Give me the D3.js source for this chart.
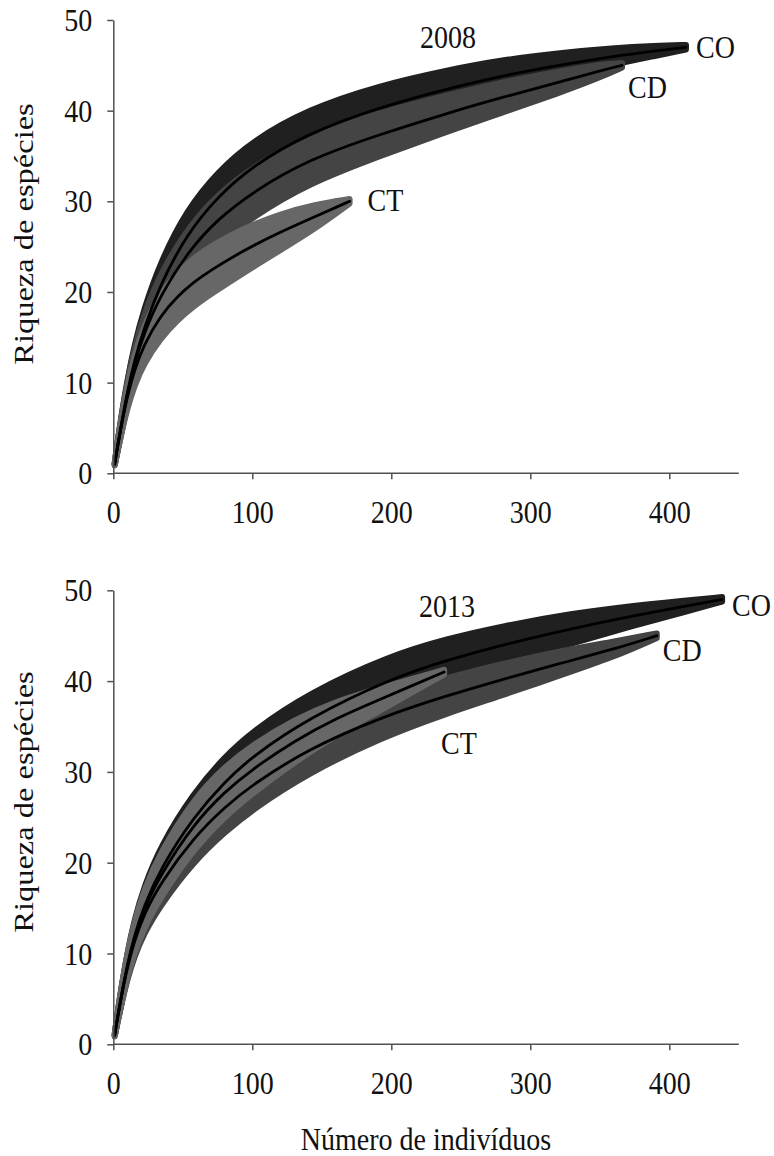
<!DOCTYPE html>
<html>
<head>
<meta charset="utf-8">
<script src="https://cdn.jsdelivr.net/npm/d3@7"></script>
<style>
  html, body { margin: 0; padding: 0; background: #fff; }
  svg { display: block; }
  text { font-family: "Liberation Serif", "Times New Roman", serif; fill: #111; }
</style>
</head>
<body>
<svg id="chart" width="774" height="1156"></svg>
<script>
// Axis ticks and labels
const xTicks = [0, 100, 200, 300, 400];
const yTicks = [0, 10, 20, 30, 40, 50];
const xTitle = "Número de indivíduos";
const yTitle = "Riqueza de espécies";
const years = ["2008", "2013"];

// 2008 — rarefied richness (S) by number of individuals (N), with CI half-widths
const co2008N  = [1, 3, 6, 10, 15, 22, 34, 53, 75, 100, 140, 192, 240, 278, 320, 360, 390, 412];
const co2008S  = [1, 2.9, 5.6, 8.9, 12.3, 16.0, 20.9, 26.4, 30.5, 33.9, 37.5, 40.4, 42.4, 43.8, 45.0, 46.0, 46.6, 47.0];
const co2008CI = [0.1, 0.5, 0.9, 1.3, 1.7, 2.1, 2.45, 2.7, 2.75, 2.75, 2.65, 2.4, 2.05, 1.75, 1.35, 0.9, 0.55, 0.25];

const cd2008N  = [1, 3, 6, 10, 15, 22, 34, 55, 75, 100, 140, 192, 240, 278, 320, 350, 366];
const cd2008S  = [1, 2.9, 5.5, 8.7, 12.0, 15.4, 19.7, 24.7, 28.0, 31.0, 34.6, 37.4, 39.7, 41.4, 43.1, 44.4, 45.0];
const cd2008CI = [0.1, 0.5, 0.9, 1.3, 1.7, 2.1, 2.45, 2.65, 2.75, 2.75, 2.65, 2.4, 2.0, 1.7, 1.2, 0.75, 0.25];

const ct2008N  = [1, 3, 6, 10, 15, 22, 34, 46, 58, 70, 94, 120, 145, 170];
const ct2008S  = [1, 2.9, 5.4, 8.4, 11.3, 14.2, 17.4, 19.5, 21.1, 22.4, 24.6, 26.6, 28.3, 30.0];
const ct2008CI = [0.1, 0.5, 0.9, 1.3, 1.7, 2.1, 2.5, 2.6, 2.65, 2.65, 2.45, 2.0, 1.35, 0.25];

// 2013
const co2013N  = [1, 3, 6, 10, 15, 22, 34, 58, 80, 100, 140, 200, 240, 280, 330, 374, 410, 438];
const co2013S  = [1, 2.9, 5.5, 8.7, 11.9, 15.2, 19.4, 25.1, 28.9, 31.7, 35.9, 40.3, 42.3, 44.0, 45.8, 47.2, 48.2, 49.0];
const co2013CI = [0.1, 0.5, 0.9, 1.3, 1.7, 2.1, 2.45, 2.65, 2.75, 2.75, 2.75, 2.55, 2.35, 2.05, 1.65, 1.1, 0.65, 0.25];

const cd2013N  = [1, 3, 6, 10, 15, 22, 34, 58, 80, 100, 140, 192, 240, 278, 320, 360, 391];
const cd2013S  = [1, 2.9, 5.4, 8.4, 11.3, 14.3, 17.8, 22.8, 26.1, 28.6, 32.5, 36.0, 38.4, 40.1, 41.9, 43.5, 45.0];
const cd2013CI = [0.1, 0.5, 0.9, 1.3, 1.7, 2.1, 2.45, 2.65, 2.75, 2.75, 2.65, 2.25, 1.95, 1.75, 1.35, 0.85, 0.25];

const ct2013N  = [1, 3, 6, 10, 15, 22, 34, 58, 80, 100, 130, 160, 192, 215, 238];
const ct2013S  = [1, 2.9, 5.5, 8.6, 11.7, 14.9, 18.7, 24.3, 27.8, 30.3, 33.4, 35.9, 38.0, 39.5, 41.0];
const ct2013CI = [0.1, 0.5, 0.9, 1.3, 1.7, 2.1, 2.5, 2.75, 2.75, 2.65, 2.35, 1.85, 1.25, 0.75, 0.25];

// Band fills per community
const bandColor = { CO: "#202020", CD: "#444444", CT: "#676767" };

function series(name, N, S, CI) {
  return { name, pts: N.map((n, i) => ({ n, s: S[i], lo: S[i] - CI[i], hi: S[i] + CI[i] })) };
}

const panels = [
  {
    year: years[0], top: 20, bottom: 473.3,
    yearPos: [448, 48],
    series: [
      series("CO", co2008N, co2008S, co2008CI),
      series("CD", cd2008N, cd2008S, cd2008CI),
      series("CT", ct2008N, ct2008S, ct2008CI)
    ],
    labelOffset: { CO: [10, 11], CD: [6, 33], CT: [18, 10] },
    yTitleY: 234
  },
  {
    year: years[1], top: 590.3, bottom: 1044.3,
    yearPos: [447, 617],
    series: [
      series("CO", co2013N, co2013S, co2013CI),
      series("CD", cd2013N, cd2013S, cd2013CI),
      series("CT", ct2013N, ct2013S, ct2013CI)
    ],
    labelOffset: { CO: [10, 17], CD: [6, 25], CT: [-3, 82] },
    yTitleY: 802
  }
];

const svg = d3.select("#chart");
const x = d3.scaleLinear().domain([0, 450]).range([113.3, 738.8]);
const FONT = 28;
const STRETCH = 1.16;   // glyphs are drawn taller than wide
const curve = d3.curveBasis;

function label(sel, px, py, str, anchor) {
  return sel.append("text")
    .attr("transform", `translate(${px},${py}) scale(1,${STRETCH})`)
    .attr("text-anchor", anchor || "start")
    .style("font-size", FONT + "px")
    .text(str);
}

panels.forEach(p => {
  const y = d3.scaleLinear().domain([0, 50]).range([p.bottom, p.top]);
  const g = svg.append("g");

  const area = d3.area()
    .x(d => x(d.n)).y0(d => y(d.lo)).y1(d => y(d.hi))
    .curve(curve);
  const line = d3.line()
    .x(d => x(d.n)).y(d => y(d.s))
    .curve(curve);

  // confidence bands (CO underneath, CT on top)
  g.append("g").selectAll("path")
    .data(p.series).join("path")
    .attr("d", d => area(d.pts))
    .attr("fill", d => bandColor[d.name])
    .attr("stroke", d => bandColor[d.name])
    .attr("stroke-width", 6)
    .attr("stroke-linejoin", "round");

  // mean rarefaction curves
  g.append("g").selectAll("path")
    .data(p.series).join("path")
    .attr("d", d => line(d.pts))
    .attr("fill", "none")
    .attr("stroke", "#000")
    .attr("stroke-width", 2.8)
    .attr("stroke-linecap", "round");

  // axes
  const xAxis = g.append("g")
    .attr("transform", `translate(0,${p.bottom})`)
    .call(d3.axisBottom(x).tickValues(xTicks).tickSize(6).tickSizeOuter(0));
  const yAxis = g.append("g")
    .attr("transform", `translate(${x(0)},0)`)
    .call(d3.axisLeft(y).tickValues(yTicks).tickSize(6).tickSizeOuter(0));
  [xAxis, yAxis].forEach(a => {
    a.select(".domain").attr("stroke", "#505050").attr("stroke-width", 1.5);
    a.selectAll(".tick line").attr("stroke", "#505050").attr("stroke-width", 1.5);
    a.selectAll(".tick text")
      .style("font-family", '"Liberation Serif", "Times New Roman", serif')
      .style("font-size", FONT + "px").attr("fill", "#111")
      .attr("x", null).attr("y", null).attr("dy", null);
  });
  xAxis.select(".domain").attr("d", `M${x(0)},0H${x(450)}`);
  xAxis.selectAll(".tick text")
    .attr("text-anchor", "middle")
    .attr("transform", `translate(0,50) scale(1,${STRETCH})`);
  yAxis.selectAll(".tick text")
    .attr("text-anchor", "end")
    .attr("transform", `translate(-21,10.5) scale(1,${STRETCH})`);

  // y-axis title
  g.append("text")
    .attr("transform", `translate(33,${p.yTitleY}) rotate(-90) scale(${STRETCH},1)`)
    .attr("text-anchor", "middle")
    .style("font-size", FONT + "px")
    .text(yTitle);

  // year label
  label(g, p.yearPos[0], p.yearPos[1], p.year, "middle");

  // community labels near each curve end
  p.series.forEach(s => {
    const last = s.pts[s.pts.length - 1];
    const off = p.labelOffset[s.name];
    label(g, x(last.n) + off[0], y(last.s) + off[1], s.name);
  });
});

// shared x-axis title
label(svg, 426, 1150, xTitle, "middle");
</script>
</body>
</html>
